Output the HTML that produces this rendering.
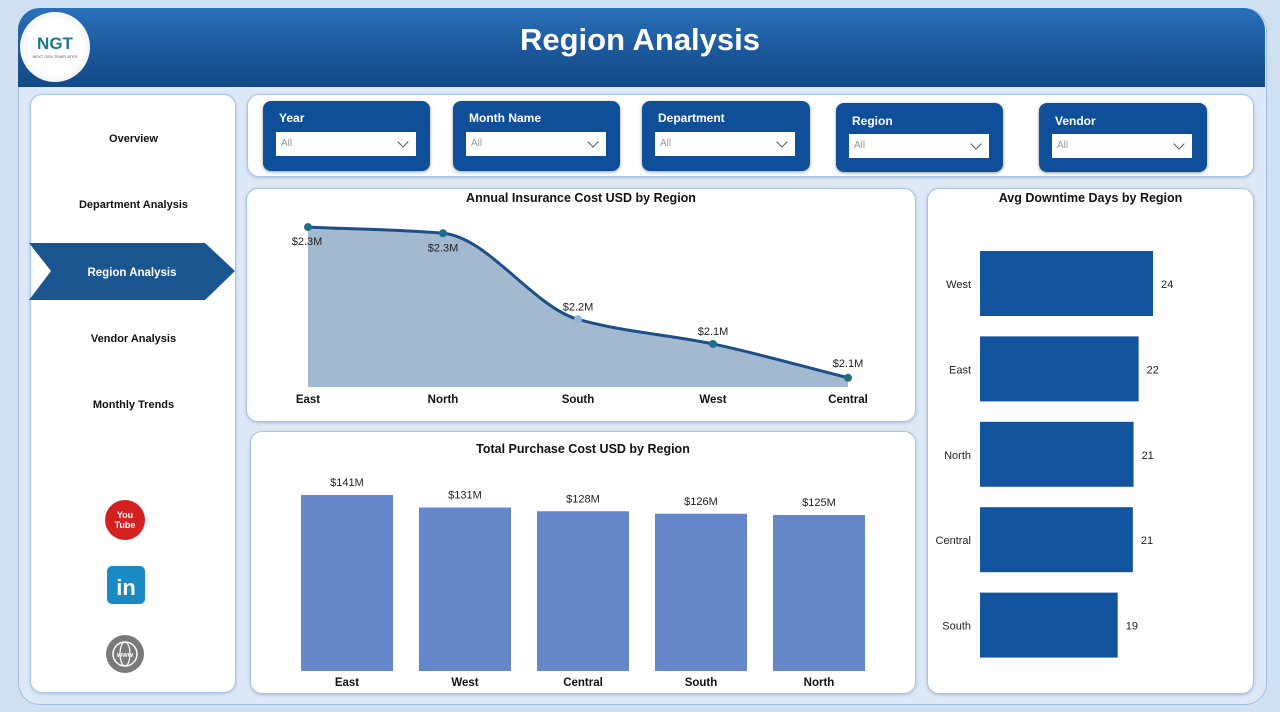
<!DOCTYPE html>
<html><head><meta charset="utf-8"><style>
body{margin:0;width:1280px;height:712px;background:#cfe0f2;font-family:"Liberation Sans",sans-serif;position:relative;overflow:hidden}
.abs{position:absolute}
.frame{left:18px;top:8px;width:1247px;height:695px;border-radius:22px;background:#dde9f6;border:1px solid #9fbde0}
.header{left:18px;top:8px;width:1247px;height:79px;border-radius:22px 22px 0 0;background:linear-gradient(#2a70b8,#1a5698 60%,#134a86)}
.card{background:#fff;border-radius:12px;border:1px solid #a9c4e4;box-shadow:0 1px 3px rgba(60,100,150,.3)}
.nav{position:absolute;left:0;width:205px;text-align:center;font-size:11px;font-weight:bold;color:#111}
.slicer{position:absolute;background:#0f4f99;border-radius:8px;color:#fff;box-shadow:0 1px 3px rgba(0,0,0,.4)}
.slicer b{position:absolute;left:16px;top:10px;font-size:12px}
.slicer .v{position:absolute;left:13px;top:31px;width:140px;height:24px;background:#fff;color:#999;font-size:10px;line-height:24px;padding-left:5px;box-sizing:border-box}
.slicer .v:after{content:"";position:absolute;right:9px;top:6px;width:7px;height:7px;border-right:1px solid #555;border-bottom:1px solid #555;transform:rotate(45deg)}
.ct{position:absolute;width:100%;text-align:center;font-size:12.5px;font-weight:bold;color:#111}
svg text{font-family:"Liberation Sans",sans-serif}
</style></head><body>
<div class="abs frame"></div>
<div class="abs header"></div>
<div class="abs" style="left:20px;top:12px;width:70px;height:70px;border-radius:50%;background:radial-gradient(#fff 55%,#ddd);text-align:center"><div style="margin-top:22px;font-weight:bold;font-size:17px;color:#1a7a8a">NGT</div><div style="font-size:4px;color:#555">NEXT GEN TEMPLATES</div></div>
<div class="abs" style="left:0;width:1280px;top:22px;text-align:center;color:#fff;font-size:31px;font-weight:bold">Region Analysis</div>

<div class="abs card" style="left:30px;top:94px;width:204px;height:597px">
<div class="nav" style="top:38px">Overview</div>
<div class="nav" style="top:104px">Department Analysis</div>
<div class="nav" style="top:238px">Vendor Analysis</div>
<div class="nav" style="top:304px">Monthly Trends</div>
</div>
<svg class="abs" style="left:29px;top:243px" width="207" height="57"><polygon points="0,0 176,0 206,28 176,57 0,57 22,28" fill="#1b5590"/><text x="103" y="33" text-anchor="middle" fill="#fff" font-size="11.5" font-weight="bold">Region Analysis</text></svg>
<svg class="abs" style="left:104px;top:499px" width="44" height="44"><circle cx="21" cy="21" r="20" fill="#d42020"/><text x="21" y="19" text-anchor="middle" fill="#fff" font-size="9" font-weight="bold">You</text><text x="21" y="29" text-anchor="middle" fill="#fff" font-size="9" font-weight="bold">Tube</text></svg>
<svg class="abs" style="left:106px;top:565px" width="40" height="40"><rect x="1" y="1" width="38" height="38" rx="5" fill="#1a8ac4"/><text x="20" y="30" text-anchor="middle" fill="#fff" font-size="22" font-weight="bold">in</text></svg>
<svg class="abs" style="left:105px;top:634px" width="42" height="42"><circle cx="20" cy="20" r="19" fill="#7a7a7a"/><circle cx="20" cy="20" r="12" fill="none" stroke="#fff" stroke-width="1.5"/><ellipse cx="20" cy="20" rx="5" ry="12" fill="none" stroke="#fff" stroke-width="1.2"/><text x="20" y="23" text-anchor="middle" fill="#fff" font-size="7" font-weight="bold">www</text></svg>

<div class="abs card" style="left:247px;top:94px;width:1005px;height:81px"></div>
<div class="slicer" style="left:263px;top:101px;width:167px;height:70px"><b>Year</b><div class="v">All</div></div>
<div class="slicer" style="left:453px;top:101px;width:167px;height:70px"><b>Month Name</b><div class="v">All</div></div>
<div class="slicer" style="left:642px;top:101px;width:168px;height:70px"><b>Department</b><div class="v">All</div></div>
<div class="slicer" style="left:836px;top:103px;width:167px;height:69px"><b style="top:11px">Region</b><div class="v">All</div></div>
<div class="slicer" style="left:1039px;top:103px;width:168px;height:69px"><b style="top:11px">Vendor</b><div class="v">All</div></div>

<div class="abs card" style="left:246px;top:188px;width:668px;height:232px"><div class="ct" style="top:2px">Annual Insurance Cost USD by Region</div></div>
<div class="abs card" style="left:250px;top:431px;width:664px;height:261px"><div class="ct" style="top:10px">Total Purchase Cost USD by Region</div></div>
<div class="abs card" style="left:927px;top:188px;width:325px;height:504px"><div class="ct" style="top:2px">Avg Downtime Days by Region</div></div>

<svg id="chart" class="abs" style="left:0;top:0" width="1280" height="712"></svg>
<script>
const insRegions=["East","North","South","West","Central"];
const insValues=[2.32,2.31,2.17,2.13,2.075];
const insLabels=["$2.3M","$2.3M","$2.2M","$2.1M","$2.1M"];
const purRegions=["East","West","Central","South","North"];
const purValues=[141,131,128,126,125];
const purLabels=["$141M","$131M","$128M","$126M","$125M"];
const dtRegions=["West","East","North","Central","South"];
const dtValues=[24,22,21.3,21.2,19.1];
const dtLabels=["24","22","21","21","19"];

const NS="http://www.w3.org/2000/svg";
const svg=document.getElementById('chart');
function mk(tag,attrs,txt){const e=document.createElementNS(NS,tag);for(const k in attrs)e.setAttribute(k,attrs[k]);if(txt!==undefined)e.textContent=txt;svg.appendChild(e);return e;}

// Area chart
const ix=i=>308+i*(848-308)/(insRegions.length-1);
const iy=v=>387-(v-2.06)*615;
let pts=insValues.map((v,i)=>[ix(i),iy(v)]);
function monotone(p){
 const n=p.length,d=[],m=[];
 for(let i=0;i<n-1;i++)d.push((p[i+1][1]-p[i][1])/(p[i+1][0]-p[i][0]));
 m[0]=d[0];m[n-1]=d[n-2];
 for(let i=1;i<n-1;i++){m[i]=(d[i-1]*d[i]<=0)?0:2/(1/d[i-1]+1/d[i]);}
 let s=`M${p[0][0]},${p[0][1]}`;
 for(let i=0;i<n-1;i++){const h=(p[i+1][0]-p[i][0])/3;
  s+=` C${p[i][0]+h},${p[i][1]+m[i]*h} ${p[i+1][0]-h},${p[i+1][1]-m[i+1]*h} ${p[i+1][0]},${p[i+1][1]}`;}
 return s;}
const ld=monotone(pts);
let a=mk('path',{d:ld+` L${ix(insRegions.length-1)},387 L${ix(0)},387 Z`,fill:'#a3b9d0'});

let l=mk('path',{d:ld,fill:'none',stroke:'#1d4f86','stroke-width':3});

const lblOff=[18,18,-9,-9,-8];
insValues.forEach((v,i)=>{
 const c=mk('circle',{cx:ix(i),cy:iy(v),r:4,fill:i==2?'#8fb4d8':'#1f6f8b'});
 
 const t=mk('text',{x:ix(i)-(i==0?1:0),y:iy(v)+lblOff[i]+(i==4?-3:0),'text-anchor':'middle','font-size':11,fill:'#222'},insLabels[i]);
 
 const x=mk('text',{x:ix(i),y:403,'text-anchor':'middle','font-size':11.5,'font-weight':'bold',fill:'#111'},insRegions[i]);
 
});

// Purchase bars
const px=i=>347+i*118;
const py=v=>671-v*1.248;
purValues.forEach((v,i)=>{
 const r=mk('rect',{x:px(i)-46,y:py(v),width:92,height:671-py(v),fill:'#6586c8'});
 
 const t=mk('text',{x:px(i),y:py(v)-9,'text-anchor':'middle','font-size':11,fill:'#222'},purLabels[i]);
 
 const x=mk('text',{x:px(i),y:686,'text-anchor':'middle','font-size':11.5,'font-weight':'bold',fill:'#111'},purRegions[i]);
 
});

// Downtime bars
const dy=i=>251+i*85.4;
const dw=v=>v*7.21;
dtValues.forEach((v,i)=>{
 const r=mk('rect',{x:980,y:dy(i),width:dw(v),height:65,fill:'#12559e'});
 
 const t=mk('text',{x:980+dw(v)+8,y:dy(i)+37,'font-size':11,fill:'#222'},dtLabels[i]);
 
 const y=mk('text',{x:971,y:dy(i)+37,'text-anchor':'end','font-size':11,fill:'#222'},dtRegions[i]);
 
});
</script>
</body></html>
